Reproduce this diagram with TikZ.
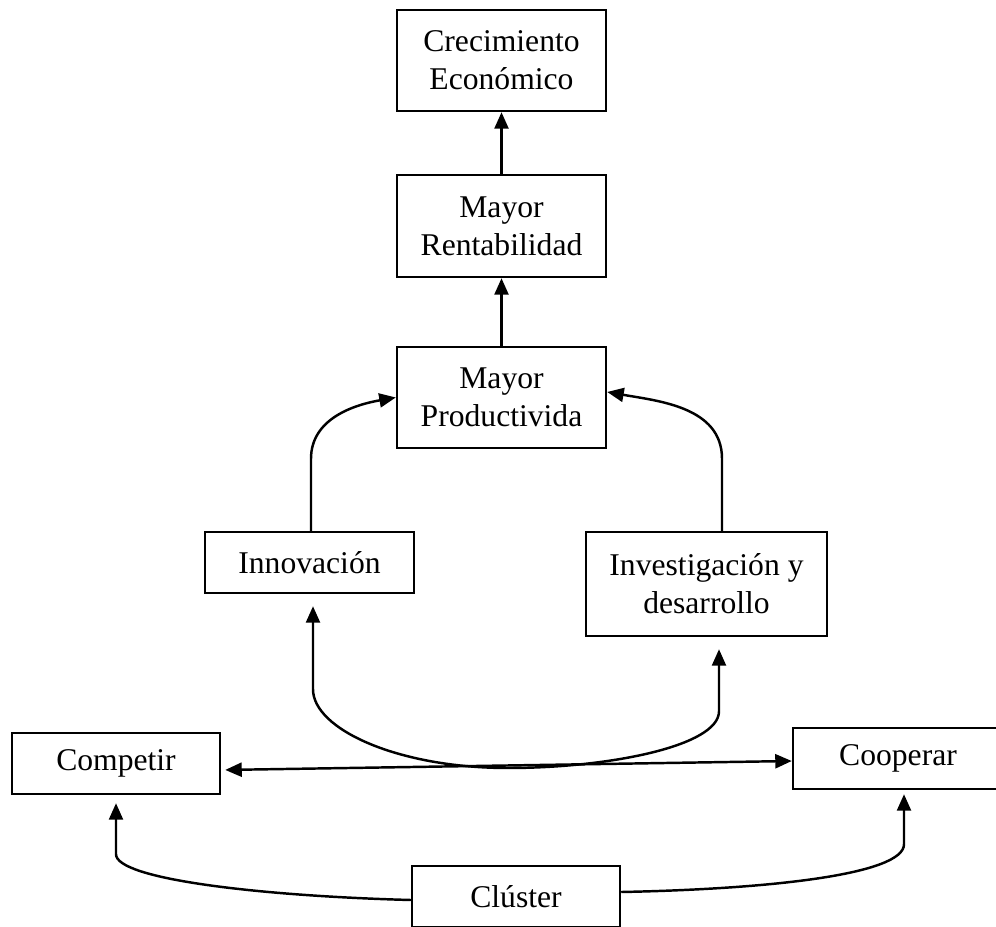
\documentclass[tikz,border=0pt]{standalone}
\usepackage{fontspec}
\setmainfont{Liberation Serif}
\usetikzlibrary{arrows.meta}
\tikzset{
  box/.style={draw, line width=1.4pt, align=center, minimum width=41.8mm, minimum height=12.2mm, font=\fontsize{18}{21.5}\selectfont},
  link/.style={line width=1.4pt}
}
\begin{document}
\begin{tikzpicture}[x=0.2mm,y=0.2mm,>={Triangle[length=3.3mm,width=2.8mm]}]
  \useasboundingbox (0,0) rectangle (996,926);
  \node[box,minimum height=20.2mm] (crec) at (501.5,865.5) {Crecimiento\\Económico};
  \node[box,minimum height=20.4mm] (rent) at (501.5,700) {Mayor\\Rentabilidad};
  \node[box,minimum height=20.2mm] (prod) at (501.5,528.5) {Mayor\\Productivida};
  \node[box] (inno) at (309.5,363.5) {Innovación};
  \node[box,minimum width=48.2mm,minimum height=20.8mm] (inv) at (706.5,342) {Investigación y\\desarrollo};
  \node[box,minimum width=41.6mm] (comp) at (116,162.5) {Competir};
  \node[box,minimum width=42mm] (coop) at (898,167.5) {Cooperar};
  \node[box,minimum width=41.6mm] (clus) at (516,29.5) {Clúster};
  \coordinate (low) at (508,158);

  \draw[link,->] (rent) -- (crec);
  \draw[link,->] (prod) -- (rent);
  \draw[link,->] ([xshift=0.3mm]inno.north) -- ++(0,72) to[out=90,in=190] (prod.west);
  \draw[link,->] ([xshift=3.1mm]inv.north) -- ++(0,72) to[out=90,in=-10] ([yshift=1.1mm]prod.east);
  \draw[link,<->,shorten <=2.4mm,shorten >=2.4mm] ([xshift=0.7mm]inno.south) -- ++(0,-95)
    .. controls +(0,-40) and +(-110,0) .. (low) .. controls +(100,0) and +(0,-35) .. ([xshift=2.5mm,yshift=-14.8mm]inv.south) -- ([xshift=2.5mm]inv.south);
  \draw[link,<->,shorten <=0.8mm] ([yshift=-1.3mm]comp.east) -- ([yshift=-0.5mm]coop.west);
  \draw[link,->,shorten >=1.6mm] ([yshift=-0.7mm]clus.west) .. controls +(-150,4) and +(0,-25) .. ([yshift=-11.8mm]comp.south) -- (comp.south);
  \draw[link,->,shorten >=0.8mm] ([yshift=0.9mm]clus.east) .. controls +(150,3) and +(0,-30) .. ([xshift=1.2mm,yshift=-10.8mm]coop.south) -- ([xshift=1.2mm]coop.south);
\end{tikzpicture}
\end{document}
